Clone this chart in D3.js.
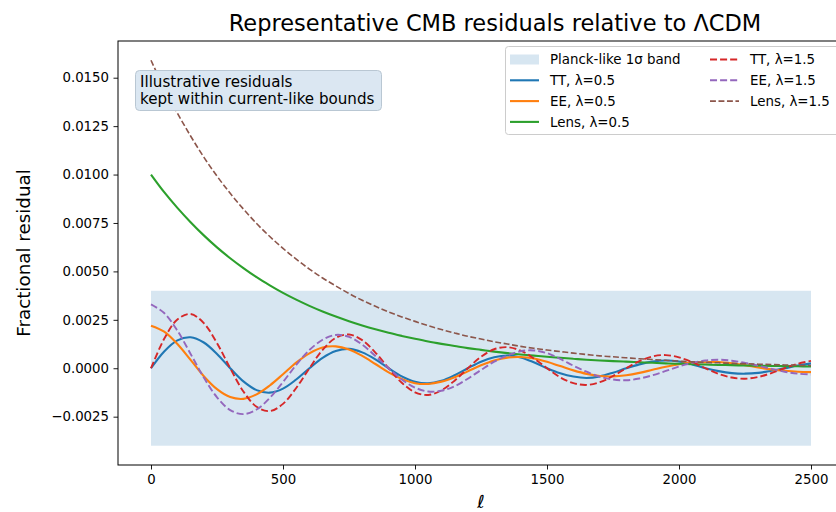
<!DOCTYPE html>
<html>
<head>
<meta charset="utf-8">
<script src="https://cdn.jsdelivr.net/npm/d3@7"></script>
<style>
	body { margin: 0; background: #fff; }
	text { font-family: "DejaVu Sans", sans-serif; fill: #000; }
</style>
</head>
<body>
<svg id="chart" width="836" height="512"></svg>
<script>
// multipole grid, every 50
const ELL = [0, 50, 100, 150, 200, 250, 300, 350, 400, 450, 500, 550, 600, 650, 700, 750, 800, 850, 900, 950,
	1000, 1050, 1100, 1150, 1200, 1250, 1300, 1350, 1400, 1450, 1500, 1550, 1600, 1650, 1700, 1750, 1800, 1850, 1900, 1950,
	2000, 2050, 2100, 2150, 2200, 2250, 2300, 2350, 2400, 2450, 2500];

const TT_05 = [0, .00087, .00144, .0016, .00133, .00074, 0, -.00068, -.00113, -.00126, -.00105, -.00058, 0, .00054, .00089, .001, .00082, .00046, 0, -.00042,
	-.0007, -.00078, -.00065, -.00036, 0, .00034, .00057, .00066, .00056, .00031, 0, -.00026, -.00043, -.0005, -.00042, -.00023, 0, .0002, .00034, .0004,
	.00035, .0002, 0, -.00015, -.00025, -.00028, -.00024, -.00013, 0, .00014, .00025];

const EE_05 = [.0022, .00189, .00125, .00043, -.00041, -.00108, -.00149, -.00158, -.00135, -.00089, -.00031, .00029, .00077, .00107, .00113, .00097, .00064, .00022, -.00021, -.00055,
	-.00077, -.00081, -.00069, -.00046, -.00016, .00015, .0004, .00055, .00058, .0005, .00033, .00011, -.00011, -.00029, -.0004, -.00042, -.00036, -.00024, -.00008, .00008,
	.00021, .00029, .00031, .00032, .00026, .00016, .00004, -.00006, -.00013, -.00018, -.0002];

const LENS_05 = [.01, .00909, .00828, .00754, .00686, .00624, .00568, .00517, .0047, .00428, .00389, .00354, .00322, .00293, .00267, .00243, .00221, .00201, .00183, .00167,
	.00152, .00138, .00126, .00115, .00104, .00095, .00086, .00078, .00071, .00065, .00059, .00054, .00049, .00044, .0004, .00037, .00034, .00031, .00028, .00025,
	.00023, .00021, .00019, .00017, .00016, .00014, .00013, .00012, .00011, .0001, .00009];

const TT_15 = [0, .00152, .00252, .0028, .00233, .0013, 0, -.0012, -.00199, -.00221, -.00184, -.00102, 0, .00095, .00157, .00174, .00145, .00081, 0, -.00075,
	-.00124, -.00138, -.00114, -.00064, 0, .00059, .00098, .00109, .00091, .00051, 0, -.00047, -.00077, -.00086, -.00072, -.0004, 0, .00037, .00061, .00068,
	.00056, .00032, 0, -.00029, -.00048, -.00054, -.00045, -.00025, 0, .00023, .00038];

const EE_15 = [.0033, .00285, .00194, .00074, -.00048, -.0015, -.00216, -.00237, -.00213, -.00153, -.00071, .00017, .00094, .00147, .00172, .00162, .00122, .00063, 0, -.00058,
	-.001, -.0012, -.00116, -.00093, -.00054, -.00009, .00034, .00066, .00088, .00092, .00078, .00048, .00013, -.00018, -.00044, -.00058, -.00062, -.00053, -.00036, -.00014,
	.00009, .00028, .0004, .00044, .00039, .00028, .00013, -.00003, -.00018, -.00028, -.00032];

const LENS_15 = [.0159, .01445, .01317, .01199, .0109, .00992, .00903, .00822, .00747, .0068, .00619, .00563, .00512, .00466, .00425, .00386, .00351, .0032, .00291, .00265,
	.00242, .0022, .002, .00182, .00165, .00151, .00137, .00125, .00113, .00103, .00094, .00086, .00078, .00071, .00064, .00059, .00054, .00049, .00045, .00041,
	.00037, .00033, .0003, .00028, .00025, .00023, .00021, .00019, .00017, .00015, .00014];

const BAND = { from: 0, to: 2500, lo: -0.004, hi: 0.004 };
const Y_TICKS = [-0.0025, 0, 0.0025, 0.005, 0.0075, 0.01, 0.0125, 0.015];
const X_TICKS = [0, 500, 1000, 1500, 2000, 2500];

const SERIES = [
	{ label: "TT, λ=0.5", values: TT_05, color: "#1f77b4", width: 2.1 },
	{ label: "EE, λ=0.5", values: EE_05, color: "#ff7f0e", width: 2.1 },
	{ label: "Lens, λ=0.5", values: LENS_05, color: "#2ca02c", width: 2.1 },
	{ label: "TT, λ=1.5", values: TT_15, color: "#d62728", width: 1.9, dashed: true },
	{ label: "EE, λ=1.5", values: EE_15, color: "#9467bd", width: 1.9, dashed: true },
	{ label: "Lens, λ=1.5", values: LENS_15, color: "#8c564b", width: 1.6, dashed: true },
];

const margin = { top: 41, right: 844, bottom: 465, left: 118 };
const svg = d3.select("#chart");

const x = d3.scaleLinear().domain([-125, 2625]).range([margin.left, margin.right]);
const y = d3.scaleLinear().domain([-0.004995, 0.016895]).range([margin.bottom, margin.top]);

const dash = s => s.dashed ? `${3.7 * s.width},${1.6 * s.width}` : null;

svg.append("defs").append("clipPath")
	.attr("id", "plot-clip")
	.append("rect")
		.attr("x", margin.left)
		.attr("y", margin.top)
		.attr("width", margin.right - margin.left)
		.attr("height", margin.bottom - margin.top);

let plot = svg.append("g").attr("clip-path", "url(#plot-clip)");

plot.append("rect")
	.attr("x", x(BAND.from))
	.attr("y", y(BAND.hi))
	.attr("width", x(BAND.to) - x(BAND.from))
	.attr("height", y(BAND.lo) - y(BAND.hi))
	.attr("fill", "#1f77b4")
	.attr("fill-opacity", 0.18);

let line = d3.line()
	.x((d, i) => x(ELL[i]))
	.y(d => y(d))
	.curve(d3.curveCatmullRom);

for (let s of SERIES) {
	plot.append("path")
		.datum(s.values)
		.attr("fill", "none")
		.attr("stroke", s.color)
		.attr("stroke-width", s.width)
		.attr("stroke-dasharray", dash(s))
		.attr("d", line);
}

// spines
svg.append("rect")
	.attr("x", margin.left)
	.attr("y", margin.top)
	.attr("width", margin.right - margin.left)
	.attr("height", margin.bottom - margin.top)
	.attr("fill", "none")
	.attr("stroke", "#000")
	.attr("stroke-width", 1);

let yAxis = svg.append("g")
	.attr("transform", `translate(${margin.left}, 0)`)
	.call(d3.axisLeft(y).tickValues(Y_TICKS).tickSize(4.5).tickPadding(4.5)
		.tickFormat(d => d3.format(".4f")(d).replace("-", "−")));
let xAxis = svg.append("g")
	.attr("transform", `translate(0, ${margin.bottom})`)
	.call(d3.axisBottom(x).tickValues(X_TICKS).tickSize(4.5).tickPadding(5).tickFormat(d3.format("d")));
for (let ax of [xAxis, yAxis]) {
	ax.select(".domain").remove();
	ax.selectAll("text").attr("font-size", 13.3).attr("font-family", "DejaVu Sans");
	ax.selectAll("line").attr("stroke", "#000").attr("stroke-width", 0.9);
}

svg.append("text")
	.attr("x", 495)
	.attr("y", 31)
	.attr("text-anchor", "middle")
	.attr("font-size", 22.5)
	.text("Representative CMB residuals relative to ΛCDM");

svg.append("text")
	.attr("transform", `translate(30, ${(margin.top + margin.bottom) / 2}) rotate(-90)`)
	.attr("text-anchor", "middle")
	.attr("font-size", 18.3)
	.text("Fractional residual");

svg.append("text")
	.attr("x", 481)
	.attr("y", 508)
	.attr("text-anchor", "middle")
	.attr("font-size", 18)
	.attr("font-style", "italic")
	.text("ℓ");

// annotation box
let note = svg.append("g");
note.append("rect")
	.attr("x", 135.5)
	.attr("y", 70.5)
	.attr("width", 246)
	.attr("height", 40)
	.attr("rx", 4)
	.attr("fill", "#dbe7f2")
	.attr("stroke", "#b9c7d3")
	.attr("stroke-width", 1);
note.selectAll("text")
	.data(["Illustrative residuals", "kept within current-like bounds"])
	.enter()
	.append("text")
		.attr("x", 140)
		.attr("y", (d, i) => 87 + i * 17)
		.attr("font-size", 15.1)
		.text(d => d);

// legend
let legend = svg.append("g");
legend.append("rect")
	.attr("x", 505.5)
	.attr("y", 46.5)
	.attr("width", 340)
	.attr("height", 88)
	.attr("rx", 3)
	.attr("fill", "#fff")
	.attr("fill-opacity", 0.8)
	.attr("stroke", "#ccc");

let legendItems = [{ label: "Planck-like 1σ band", band: true }].concat(SERIES);
const legendRows = 4;
legendItems.forEach((item, i) => {
	let col = Math.floor(i / legendRows);
	let row = i % legendRows;
	let lx = col === 0 ? 510 : 710;
	let ly = 59.5 + row * 20.8;
	let g = legend.append("g");
	if (item.band) {
		g.append("rect")
			.attr("x", lx)
			.attr("y", ly - 5)
			.attr("width", 29)
			.attr("height", 10)
			.attr("fill", "#1f77b4")
			.attr("fill-opacity", 0.18);
	} else {
		g.append("line")
			.attr("x1", lx)
			.attr("x2", lx + 29)
			.attr("y1", ly)
			.attr("y2", ly)
			.attr("stroke", item.color)
			.attr("stroke-width", item.width)
			.attr("stroke-dasharray", dash(item));
	}
	g.append("text")
		.attr("x", lx + 40)
		.attr("y", ly)
		.attr("dy", "0.35em")
		.attr("font-size", 13.4)
		.text(item.label);
});
</script>
</body>
</html>
